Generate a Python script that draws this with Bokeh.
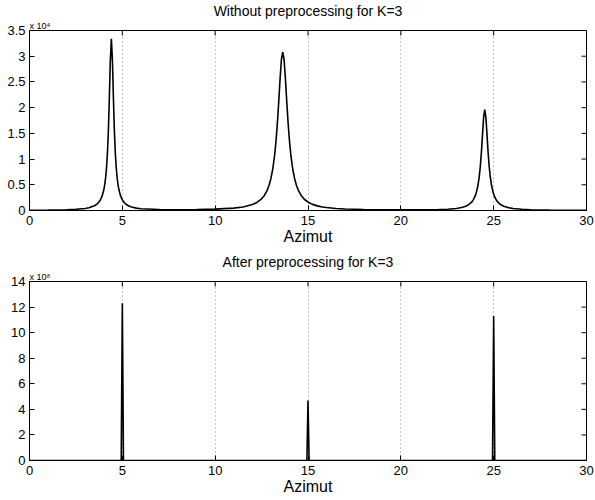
import math
from bokeh.plotting import figure
from bokeh.models import Range1d, FixedTicker, Title
from bokeh.layouts import column
from bokeh.embed import file_html
from bokeh.resources import INLINE

# ---- data ----
azimut_top = [0, 1, 2, 2.5, 3, 3.2, 3.5, 3.65, 3.8, 3.9, 4.0, 4.05, 4.1, 4.15, 4.2, 4.25,
              4.3, 4.35, 4.41, 4.47, 4.52, 4.57, 4.62, 4.67, 4.72, 4.77, 4.82, 4.9, 5.0,
              5.1, 5.2, 5.35, 5.5, 5.75, 6, 7, 8, 9, 10,
              11, 11.5, 12, 12.25, 12.5, 12.65, 12.8, 12.9, 13.0, 13.1, 13.2, 13.28,
              13.35, 13.42, 13.5, 13.57, 13.64, 13.71, 13.78, 13.86, 13.93, 14.0, 14.08,
              14.18, 14.28, 14.38, 14.48, 14.63, 14.8, 15.03, 15.25, 15.5, 15.78, 16,
              16.5, 17, 18, 19, 20, 21, 22, 22.52, 23.0, 23.27, 23.5, 23.67, 23.8, 23.9,
              24.0, 24.07, 24.15, 24.22, 24.28, 24.34, 24.4, 24.46, 24.52, 24.58, 24.64,
              24.7, 24.76, 24.82, 24.89, 24.97, 25.04, 25.14, 25.24, 25.37, 25.54, 25.77,
              26.04, 26.52, 27, 28, 29, 30]
power_top = [0.006, 0.009, 0.015, 0.023, 0.040, 0.054, 0.092, 0.128, 0.194, 0.269, 0.398,
             0.498, 0.637, 0.838, 1.132, 1.566, 2.176, 2.883, 3.34, 2.883, 2.176, 1.566,
             1.132, 0.838, 0.637, 0.498, 0.398, 0.290, 0.207, 0.155, 0.121, 0.087, 0.067,
             0.046, 0.035, 0.019, 0.016, 0.019, 0.027,
             0.047, 0.069, 0.115, 0.157, 0.227, 0.293, 0.392, 0.487, 0.618, 0.802, 1.068,
             1.361, 1.693, 2.093, 2.587, 2.941, 3.08, 2.941, 2.587, 2.093, 1.693, 1.361,
             1.068, 0.802, 0.619, 0.487, 0.392, 0.293, 0.219, 0.157, 0.119, 0.090, 0.069,
             0.057, 0.039, 0.030, 0.019, 0.014, 0.012, 0.013, 0.018, 0.025, 0.040, 0.060,
             0.083, 0.119, 0.157, 0.207, 0.278, 0.356, 0.481, 0.650, 0.853, 1.136, 1.481,
             1.815, 1.96, 1.815, 1.481, 1.133, 0.853, 0.647, 0.481, 0.353, 0.278, 0.204,
             0.157, 0.116, 0.083, 0.057, 0.040, 0.024, 0.016, 0.009, 0.006, 0.004]  # x 10^4

azimut_bottom = [0, 4.94, 5.0, 5.06, 14.94, 15.0, 15.06, 24.94, 25.0, 25.06, 30]
power_bottom = [0, 0, 12.3, 0, 0, 4.7, 0, 0, 11.3, 0, 0]  # x 10^8

x_ticks = [0, 5, 10, 15, 20, 25, 30]
grid_ticks = [5, 10, 15, 20, 25]
top_y_ticks = [0, 0.5, 1, 1.5, 2, 2.5, 3, 3.5]
top_y_labels = ["0", "0.5", "1", "1.5", "2", "2.5", "3", "3.5"]
bottom_y_ticks = [0, 2, 4, 6, 8, 10, 12, 14]
bottom_y_labels = ["0", "2", "4", "6", "8", "10", "12", "14"]

titles = ["Without preprocessing for K=3", "After preprocessing for K=3"]
x_label = "Azimut"
exponents = ["x 10\u2074", "x 10\u2078"]

FONT = "Liberation Sans"
XMAX = 30


def make_panel(title, xs, ys, yticks, ylabels, ymax, exponent, height, top_border):
    p = figure(width=595, height=height, x_range=Range1d(0, XMAX), y_range=Range1d(0, ymax),
               output_backend="svg", toolbar_location=None,
               min_border_left=29, min_border_right=9, min_border_top=top_border,
               min_border_bottom=40)
    p.background_fill_color = "white"
    p.border_fill_color = "white"
    p.outline_line_color = "black"
    p.outline_line_width = 1

    for ax in (p.xaxis[0], p.yaxis[0]):
        ax.major_tick_in = 5
        ax.major_tick_out = 0
        ax.minor_tick_line_color = None
        ax.axis_line_color = "black"
        ax.major_tick_line_color = "black"
        ax.major_label_text_font = FONT
        ax.major_label_text_font_size = "13px"
        ax.major_label_text_color = "black"
    p.xaxis.major_label_standoff = 5
    p.yaxis.major_label_standoff = 4

    p.xaxis.ticker = FixedTicker(ticks=x_ticks)
    p.xaxis.axis_label = x_label
    p.xaxis.axis_label_text_font = FONT
    p.xaxis.axis_label_text_font_size = "16px"
    p.xaxis.axis_label_text_font_style = "normal"
    p.xaxis.axis_label_text_color = "black"
    p.xaxis.axis_label_standoff = 0

    p.yaxis.ticker = FixedTicker(ticks=yticks)
    p.yaxis.major_label_overrides = {t: l for t, l in zip(yticks, ylabels)}

    # inward ticks on the top and right edges of the box (outer half clipped by the frame)
    p.scatter(x=x_ticks, y=[ymax] * len(x_ticks), marker="dash", size=10,
              angle=math.pi / 2, line_color="black", line_width=1)
    p.scatter(x=[XMAX] * len(yticks), y=yticks, marker="dash", size=10,
              line_color="black", line_width=1)

    exp_title = Title(text=exponent, align="left", text_font=FONT, text_font_size="9px",
                      text_font_style="normal", text_color="black", standoff=0)
    p.add_layout(exp_title, "above")
    main_title = Title(text=title, align="center", text_font=FONT, text_font_size="14px",
                       text_font_style="normal", text_color="black", standoff=0)
    p.add_layout(main_title, "above")

    p.xgrid.ticker = FixedTicker(ticks=grid_ticks)
    p.xgrid.grid_line_color = "#808080"
    p.xgrid.grid_line_dash = "1 3"
    p.xgrid.grid_line_width = 1
    p.ygrid.visible = False

    p.line(xs, ys, line_color="black", line_width=1.6)
    return p


p1 = make_panel(titles[0], azimut_top, power_top, top_y_ticks, top_y_labels, 3.5,
                exponents[0], 250, 29)
p2 = make_panel(titles[1], azimut_bottom, power_bottom, bottom_y_ticks, bottom_y_labels, 14,
                exponents[1], 250, 31)

layout = column(p1, p2, spacing=0)
open("out.html", "w").write(file_html(layout, INLINE))
